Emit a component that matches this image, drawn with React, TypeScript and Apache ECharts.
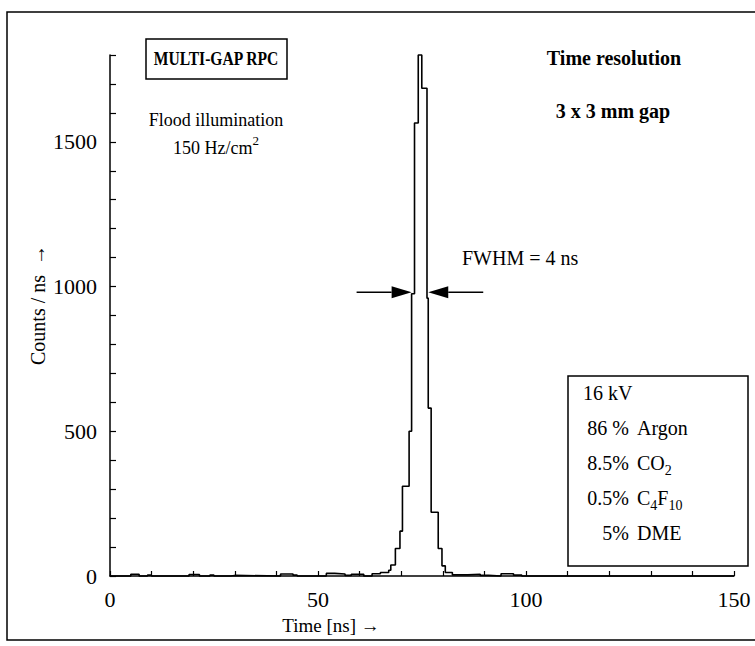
import React, { useEffect, useRef } from "react";
import * as echarts from "echarts";

// Histogram: left bin edges (ns) and counts per ns
const binEdges = [
  0, 5, 7, 9, 10, 19, 21.5, 24, 25, 29, 30, 41, 44, 45, 52, 54, 56.5, 58, 61, 63, 65, 67,
  67.5, 68.6, 69.7, 70.3, 71.9, 72.5, 73.2, 74.1, 74.95, 76.2, 76.5, 77.2, 78.9, 79.8, 80.6,
  82.3, 86, 89, 91, 94, 97, 99, 150,
];
const binCounts = [
  0, 6, 0, 3, 0, 5, 0, 3, 0, 2, 0, 7, 3, 0, 9, 7, 2, 6, 0, 8, 12, 20,
  38, 95, 155, 310, 500, 975, 1565, 1800, 1685, 960, 580, 220, 95, 35, 12,
  4, 6, 2, 0, 8, 3, 0, 0,
];
const xLabelValues = [0, 50, 100, 150];
const yLabelValues = [0, 500, 1000, 1500];
const fwhmEdges = [72.5, 76.5];
const halfMax = 980;
const gasPercents = ["86 %", "8.5%", "0.5%", "5%"];
const gasNames = ["Argon", "CO{sub|2}", "C{sub|4}F{sub|10}", "DME"];
const voltage = "16 kV";

const FONT = "'Liberation Serif', 'DejaVu Serif', 'Times New Roman', serif";

export default function App() {
  const ref = useRef<HTMLDivElement>(null);
  useEffect(() => {
    if (!ref.current) return;
    const chart = echarts.init(ref.current, null, { renderer: "svg" });
    const data = binEdges.map((x, i) => [x, binCounts[i]]);
    chart.setOption({
      animation: false,
      backgroundColor: "#fff",
      grid: { left: 110, right: 21, top: 55, bottom: 70 },
      xAxis: {
        type: "value",
        min: 0,
        max: 150,
        interval: 10,
        axisLine: { show: true, lineStyle: { color: "#000", width: 1.5 } },
        axisTick: { show: true, inside: true, length: 5, lineStyle: { color: "#000", width: 1.2 } },
        axisLabel: {
          fontFamily: FONT,
          fontSize: 22,
          color: "#000",
          margin: 12,
          formatter: (v: number) => (xLabelValues.includes(v) ? String(v) : ""),
        },
        splitLine: { show: false },
      },
      yAxis: {
        type: "value",
        min: 0,
        max: 1800,
        interval: 100,
        axisLine: { show: true, lineStyle: { color: "#000", width: 1.5 } },
        axisTick: { show: true, inside: true, length: 6, lineStyle: { color: "#000", width: 1.2 } },
        axisLabel: {
          fontFamily: FONT,
          fontSize: 22,
          color: "#000",
          margin: 13,
          formatter: (v: number) => (yLabelValues.includes(v) ? String(v) : ""),
        },
        splitLine: { show: false },
      },
      series: [
        {
          type: "line",
          data,
          step: "end",
          symbol: "none",
          clip: false,
          lineStyle: { color: "#000", width: 1.6 },
        },
      ],
    });

    const [lx, ly] = chart.convertToPixel({ gridIndex: 0 }, [fwhmEdges[0], halfMax]) as number[];
    const [rx] = chart.convertToPixel({ gridIndex: 0 }, [fwhmEdges[1], halfMax]) as number[];
    const head = 20;
    const hh = 6;
    const txt = (text: string, x: number, y: number, size: number, opts: any = {}) => ({
      type: "text",
      rotation: opts.rotation || 0,
      scaleX: opts.scaleX || 1,
      x,
      y,
      style: {
        text,
        x: 0,
        y: 0,
        fontFamily: FONT,
        fontSize: size,
        fill: "#000",
        align: opts.align || "center",
        verticalAlign: "middle",
        fontWeight: opts.bold ? "bold" : "normal",
        rich: opts.rich,
      },
    });
    const mkRich = (size: number) => ({
      m: { fontFamily: FONT, fontSize: size, lineHeight: 28, verticalAlign: "middle", fill: "#000" },
      sub: { fontFamily: FONT, fontSize: Math.round(size * 0.72), lineHeight: 13, verticalAlign: "bottom", fill: "#000" },
      sup: { fontFamily: FONT, fontSize: Math.round(size * 0.72), lineHeight: 13, verticalAlign: "top", fill: "#000" },
    });
    const wrapRich = (s: string) =>
      s
        .split(/(\{sub\|[^}]*\}|\{sup\|[^}]*\})/)
        .filter((p) => p.length)
        .map((p) => (p.startsWith("{") ? p : `{m|${p}}`))
        .join("");

    const legendTop = 393;
    const legendStep = 35;
    const graphics: any[] = [
      // outer frame
      { type: "rect", shape: { x: 7, y: 12, width: 760, height: 628 }, style: { fill: "none", stroke: "#000", lineWidth: 1.5 } },
      // title box
      { type: "rect", shape: { x: 146, y: 39, width: 141, height: 40 }, style: { fill: "none", stroke: "#000", lineWidth: 1.5 } },
      txt("MULTI-GAP RPC", 216, 59, 19, { bold: true, scaleX: 0.82 }),
      txt("Flood illumination", 216, 120, 18),
      txt(wrapRich("150 Hz/cm{sup|2}"), 216, 148, 18, { rich: mkRich(18) }),
      txt("Time resolution", 614, 58, 20, { bold: true }),
      txt("3 x 3 mm gap", 613, 111, 20, { bold: true }),
      txt("FWHM = 4 ns", 462, 258, 20, { align: "left" }),
      // axis names
      txt("Time [ns] \u2192", 331, 625, 19),
      txt("Counts / ns  \u2192", 38, 305, 20, { rotation: Math.PI / 2 }),
      // FWHM arrows
      { type: "line", shape: { x1: lx - 55, y1: ly, x2: lx - head, y2: ly }, style: { stroke: "#000", lineWidth: 1.5 } },
      { type: "polygon", shape: { points: [[lx, ly], [lx - head, ly - hh], [lx - head, ly + hh]] }, style: { fill: "#000" } },
      { type: "line", shape: { x1: rx + head, y1: ly, x2: rx + 55, y2: ly }, style: { stroke: "#000", lineWidth: 1.5 } },
      { type: "polygon", shape: { points: [[rx, ly], [rx + head, ly - hh], [rx + head, ly + hh]] }, style: { fill: "#000" } },
      // gas legend box
      { type: "rect", shape: { x: 568, y: 376, width: 180, height: 190 }, style: { fill: "#fff", stroke: "#000", lineWidth: 1.5 } },
      txt(voltage, 583, legendTop, 20, { align: "left" }),
    ];
    gasPercents.forEach((p, i) => {
      const y = legendTop + legendStep * (i + 1);
      graphics.push(txt(p, 629, y, 20, { align: "right" }));
      graphics.push(txt(wrapRich(gasNames[i]), 637, y, 20, { align: "left", rich: mkRich(20) }));
    });
    chart.setOption({ graphic: graphics });
    return () => chart.dispose();
  }, []);
  return (
    <div
      ref={ref}
      style={{ position: "fixed", left: 0, top: 0, width: 755, height: 646, background: "#fff" }}
    />
  );
}
